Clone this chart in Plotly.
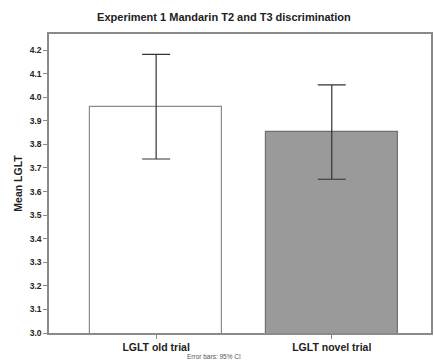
import plotly.graph_objects as go

categories = ["LGLT old trial", "LGLT novel trial"]
means = [3.96, 3.852]
ci_upper = [4.182, 4.052]
ci_lower = [3.738, 3.652]
bar_colors = ["#ffffff", "#9a9a9a"]
bar_lines = ["#8a8a8a", "#707070"]
ytick_vals = [3.0, 3.1, 3.2, 3.3, 3.4, 3.5, 3.6, 3.7, 3.8, 3.9, 4.0, 4.1, 4.2]

err_plus = [u - m for u, m in zip(ci_upper, means)]
err_minus = [m - l for m, l in zip(means, ci_lower)]

FONT = "Liberation Sans, Arial, sans-serif"

fig = go.Figure()
fig.add_trace(go.Bar(
    x=categories, y=means, width=0.754,
    marker=dict(color=bar_colors, line=dict(color=bar_lines, width=1.2)),
    error_y=dict(type="data", symmetric=False, array=err_plus, arrayminus=err_minus,
                 color="#333333", thickness=1.2, width=14),
    showlegend=False,
))

fig.update_layout(
    width=434, height=363,
    margin=dict(l=49, r=1, t=34, b=30),
    paper_bgcolor="white", plot_bgcolor="white",
    bargap=0,
    title=dict(text="Experiment 1 Mandarin T2 and T3 discrimination",
               x=0.516, xref="container", xanchor="center",
               y=1 - 17 / 363, yref="container", yanchor="middle",
               font=dict(family=FONT, size=11, color="#222222", weight="bold")),
    font=dict(family=FONT, color="#222222"),
)

fig.update_yaxes(
    range=[3.0, 4.268], tickvals=ytick_vals, tickformat=".1f",
    ticks="outside", ticklen=4, tickcolor="#888888",
    tickfont=dict(family=FONT, size=8.5, color="#222222", weight="bold"),
    showline=True, linecolor="#8a8a8a", linewidth=1.5, mirror=True,
    showgrid=False, zeroline=False,
    title=dict(text="Mean LGLT", standoff=5,
               font=dict(family=FONT, size=10.5, color="#222222", weight="bold")),
)
fig.update_xaxes(
    range=[-0.61, 1.565],
    ticks="outside", ticklen=4, tickcolor="#888888",
    tickfont=dict(family=FONT, size=10.5, color="#222222", weight="bold"),
    showline=True, linecolor="#8a8a8a", linewidth=1.5, mirror=True,
    showgrid=False,
)

fig.add_annotation(
    text="Error bars: 95% CI", xref="paper", yref="paper",
    x=(215 - 49) / 385, y=-23 / 299, xanchor="center", yanchor="middle",
    showarrow=False, font=dict(family=FONT, size=6.5, color="#555555"),
)

fig.write_html("out.html")
